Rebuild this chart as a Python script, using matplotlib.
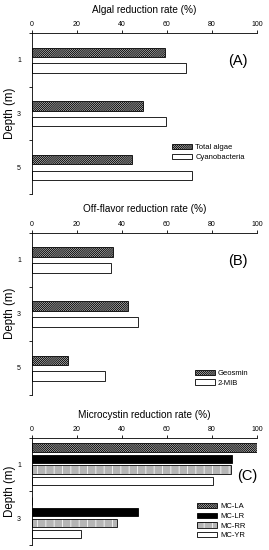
import matplotlib
matplotlib.use('Agg')
import matplotlib.pyplot as plt
from matplotlib.patches import Patch
from matplotlib.legend_handler import HandlerTuple
import numpy as np

plt.rcParams['font.family'] = ['Liberation Sans', 'DejaVu Sans']
plt.rcParams['hatch.linewidth'] = 0.7

# data
depth_ab = ['1', '3', '5']
total_algae = [59, 49.3, 44.3]
cyanobacteria = [68.4, 59.6, 71]
geosmin = [36, 42.8, 16]
mib = [35, 47, 32.5]
depth_c = ['1', '3']
mc_la = [100, 0]
mc_lr = [89, 47]
mc_rr = [88.5, 38]
mc_yr = [80.4, 22]

fig = plt.figure(figsize=(2.69, 5.5), dpi=100)
axA = fig.add_axes([0.119, 0.647, 0.836, 0.293])
axB = fig.add_axes([0.119, 0.282, 0.836, 0.295])
axC = fig.add_axes([0.119, 0.009, 0.836, 0.195])

HATCH = '/' * 16
LA_HATCH = '\\' * 16


def style(ax, cats, title):
    n = len(cats)
    ax.set_xlim(0, 100)
    ax.set_ylim(n - 0.5, -0.5)
    ax.xaxis.tick_top()
    ax.xaxis.set_label_position('top')
    ax.set_xticks(np.arange(0, 101, 20))
    ax.tick_params(axis='x', labelsize=5, length=2, width=0.6, pad=1.5)
    ax.set_xlabel(title, fontsize=7.2, labelpad=6)
    ax.set_yticks(np.arange(n))
    ax.set_yticklabels(cats)
    ax.tick_params(axis='y', which='major', length=0, labelsize=5, pad=8)
    ax.set_yticks(np.arange(n + 1) - 0.5, minor=True)
    ax.tick_params(axis='y', which='minor', length=2, width=0.6)
    ax.set_ylabel('Depth (m)', fontsize=8.3, labelpad=1)
    for s in ['right', 'bottom']:
        ax.spines[s].set_visible(False)
    for s in ['left', 'top']:
        ax.spines[s].set_linewidth(0.6)


leg_kw = dict(loc='upper left', frameon=False, fontsize=5.5, handlelength=2.6,
              handleheight=0.7, labelspacing=0.3, handletextpad=0.4,
              borderaxespad=0)

y = np.arange(3)
style(axA, depth_ab, 'Algal reduction rate (%)')
axA.barh(y - 0.14, total_algae, 0.175, color='white', edgecolor='black',
         hatch=HATCH, linewidth=0.6, label='Total algae')
axA.barh(y + 0.15, cyanobacteria, 0.175, color='white', edgecolor='black',
         linewidth=0.6, label='Cyanobacteria')
axA.legend(bbox_to_anchor=(0.61, 0.33), **leg_kw)
axA.text(0.96, 0.80, '(A)', transform=axA.transAxes, fontsize=10.5, ha='right')

style(axB, depth_ab, 'Off-flavor reduction rate (%)')
axB.barh(y - 0.14, geosmin, 0.175, color='white', edgecolor='black',
         hatch=HATCH, linewidth=0.6, label='Geosmin')
axB.barh(y + 0.15, mib, 0.175, color='white', edgecolor='black',
         linewidth=0.6, label='2-MIB')
axB.legend(bbox_to_anchor=(0.71, 0.175), **leg_kw)
axB.text(0.96, 0.80, '(B)', transform=axB.transAxes, fontsize=10.5, ha='right')

yc = np.arange(2)
style(axC, depth_c, 'Microcystin reduction rate (%)')
h = 0.155
axC.barh(yc - 0.32, mc_la, h, color='white', edgecolor='black',
         hatch=LA_HATCH, linewidth=0.6)
axC.barh(yc - 0.11, mc_lr, h, color='black', edgecolor='black', linewidth=0.6)
axC.barh(yc + 0.09, mc_rr, h, color='#b5b5b5', edgecolor='#eeeeee',
         hatch='||', linewidth=0)
axC.barh(yc + 0.09, mc_rr, h, fill=False, edgecolor='black', linewidth=0.6)
axC.barh(yc + 0.30, mc_yr, h, color='white', edgecolor='black', linewidth=0.6)
hla = Patch(facecolor='white', edgecolor='black', hatch=LA_HATCH, linewidth=0.6)
hlr = Patch(facecolor='black', edgecolor='black', linewidth=0.6)
hrr = (Patch(facecolor='#b5b5b5', edgecolor='#eeeeee', hatch='||', linewidth=0),
       Patch(fill=False, edgecolor='black', linewidth=0.6))
hyr = Patch(facecolor='white', edgecolor='black', linewidth=0.6)
axC.legend([hla, hlr, hrr, hyr], ['MC-LA', 'MC-LR', 'MC-RR', 'MC-YR'],
           handler_map={tuple: HandlerTuple(ndivide=1, pad=0)},
           bbox_to_anchor=(0.72, 0.42), **leg_kw)
axC.text(1.0, 0.61, '(C)', transform=axC.transAxes, fontsize=10.5, ha='right')

fig.savefig('out.png', dpi=100)
